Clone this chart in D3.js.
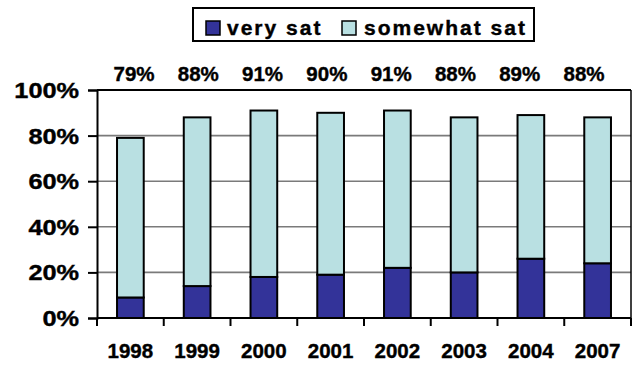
<!DOCTYPE html>
<html>
<head>
<meta charset="utf-8">
<script src="https://cdn.jsdelivr.net/npm/d3@7/dist/d3.min.js"></script>
<style>
  html, body { margin: 0; padding: 0; background: #fff; }
  svg text { font-family: "Liberation Sans", Arial, sans-serif; font-weight: bold; fill: #000; stroke: #000; stroke-width: 0.4px; }
</style>
</head>
<body>
<script>
// Satisfaction by survey year
const years = ["1998", "1999", "2000", "2001", "2002", "2003", "2004", "2007"];
const verySat = [9, 14, 18, 19, 22, 20, 26, 24];
const totalSat = [79, 88, 91, 90, 91, 88, 89, 88];
const somewhatSat = totalSat.map((t, i) => t - verySat[i]);
const yTicks = [0, 20, 40, 60, 80, 100];
const seriesNames = ["very sat", "somewhat sat"];
const colors = ["#333399", "#B9E0E2"];

const W = 633, H = 367;
const plot = { left: 97, right: 631, top: 90, bottom: 318 };

const svg = d3.select("body").append("svg").attr("width", W).attr("height", H);

const x = d3.scaleBand().domain(years).range([plot.left, plot.right]).padding(0);
const y = d3.scaleLinear().domain([0, 100]).range([plot.bottom, plot.top]);
// total labels sit on their own evenly spaced row above the plot
const xLabel = d3.scalePoint().domain(years).range([134, 584]);

// gridlines
svg.append("g").selectAll("line").data(yTicks.filter(t => t > 0 && t < 100)).join("line")
  .attr("x1", plot.left).attr("x2", plot.right)
  .attr("y1", d => y(d)).attr("y2", d => y(d))
  .attr("stroke", "#7a7a7a").attr("stroke-width", 1.6);

// stacked bars
const stackData = years.map((yr, i) => ({ year: yr, very: verySat[i], somewhat: somewhatSat[i] }));
const stack = d3.stack().keys(["very", "somewhat"])(stackData);
const barW = x.bandwidth() * 0.4;
svg.append("g").selectAll("g").data(stack).join("g")
  .attr("fill", (d, i) => colors[i])
  .selectAll("rect").data(d => d).join("rect")
  .attr("x", d => x(d.data.year) + (x.bandwidth() - barW) / 2)
  .attr("width", barW)
  .attr("y", d => y(d[1]))
  .attr("height", d => y(d[0]) - y(d[1]))
  .attr("stroke", "#000").attr("stroke-width", 2);

// plot frame
svg.append("line").attr("x1", plot.left).attr("x2", plot.right).attr("y1", plot.top).attr("y2", plot.top)
  .attr("stroke", "#000").attr("stroke-width", 2);
svg.append("line").attr("x1", plot.right).attr("x2", plot.right).attr("y1", plot.top).attr("y2", plot.bottom)
  .attr("stroke", "#000").attr("stroke-width", 1.5);

// y axis
const yAxis = svg.append("g").attr("transform", `translate(${plot.left},0)`)
  .call(d3.axisLeft(y).tickValues(yTicks).tickFormat(d => d + "%").tickSize(9).tickPadding(0));
yAxis.attr("font-family", null).attr("font-size", null);
yAxis.select(".domain").attr("stroke", "#000").attr("stroke-width", 2);
yAxis.selectAll(".tick line").attr("stroke", "#000").attr("stroke-width", 2);
yAxis.selectAll(".tick text")
  .attr("x", 0).attr("dy", null).attr("y", 7.5)
  .attr("font-size", 22)
  .attr("text-anchor", "end")
  .attr("transform", "translate(-18,0) scale(1.15,1)");

// x axis: ticks on category boundaries
const xAxisG = svg.append("g");
xAxisG.append("line").attr("x1", plot.left).attr("x2", plot.right)
  .attr("y1", plot.bottom).attr("y2", plot.bottom).attr("stroke", "#000").attr("stroke-width", 2);
const bounds = years.map(d => x(d)).concat([x(years[years.length - 1]) + x.bandwidth()]);
xAxisG.selectAll("line.tk").data(bounds).join("line").attr("class", "tk")
  .attr("x1", d => d).attr("x2", d => d).attr("y1", plot.bottom).attr("y2", plot.bottom + 8)
  .attr("stroke", "#000").attr("stroke-width", 2);
xAxisG.selectAll("text").data(years).join("text")
  .attr("x", d => x(d) + x.bandwidth() / 2).attr("y", 358)
  .attr("text-anchor", "middle").attr("font-size", 20.5).text(d => d);

// total labels
svg.append("g").selectAll("text").data(years).join("text")
  .attr("x", d => xLabel(d)).attr("y", 81)
  .attr("text-anchor", "middle").attr("font-size", 20.5)
  .text((d, i) => totalSat[i] + "%");

// legend
const lg = svg.append("g");
lg.append("rect").attr("x", 193).attr("y", 8).attr("width", 341).attr("height", 33)
  .attr("fill", "#fff").attr("stroke", "#000").attr("stroke-width", 2);
const legendX = [206, 342];
const legendTextX = [227, 364];
seriesNames.forEach((name, i) => {
  lg.append("rect").attr("x", legendX[i]).attr("y", 21).attr("width", 14).attr("height", 14)
    .attr("fill", colors[i]).attr("stroke", "#000").attr("stroke-width", 1.5);
  lg.append("text").attr("x", legendTextX[i]).attr("y", 35)
    .attr("font-size", 21).attr("letter-spacing", 2).text(name);
});
</script>
</body>
</html>
